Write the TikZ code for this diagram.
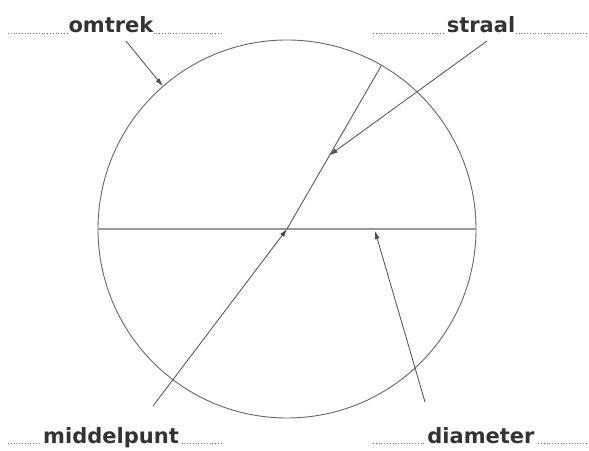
\documentclass[tikz,border=0pt]{standalone}
\usepackage{fontspec}
\setsansfont{DejaVu Sans}
\usetikzlibrary{arrows.meta,calc}

\begin{document}
\begin{tikzpicture}[x=1pt, y=1pt, >={Latex[length=8pt,width=5pt]},
 word/.style={font=\sffamily\bfseries\fontsize{21}{21}\selectfont, text=black!80, fill=white, inner sep=1pt, anchor=base},
 dots/.style={black!55, line width=.8pt, dash pattern=on .8pt off 2pt},
 rimline/.style={draw=black!60, line width=.9pt},
 pointer/.style={->, black!70, line width=.8pt}]
\useasboundingbox (0,0) rectangle (589,450);
% circle and its lines
\node[circle, rimline, minimum size=378pt, inner sep=0pt] (rim) at (287,221) {};
\draw[black!40, line width=1.8pt] (rim.west) -- (rim.east);
\draw[black!65, line width=.9pt] (rim.center) -- (rim.60);
% labels on dotted lines
\draw[dots] (8,417) -- (222,417);
\draw[dots] (373,417) -- (589,417);
\draw[dots] (8,7) -- (222,7);
\draw[dots] (373,7) -- (589,7);
\node[word] (omtrek) at (111,417) {omtrek};
\node[word] (straal) at (481,417) {straal};
\node[word] (middelpunt) at (111,7) {middelpunt};
\node[word] (diameter) at (481,7) {diameter};
% pointers
\coordinate (omtrekfoot) at (126,409);
\coordinate (straalfoot) at (487,409);
\coordinate (middelfoot) at (153,44);
\coordinate (diamfoot) at (425,48);
\coordinate (onradius) at ($(rim.center)!0.45!(rim.60)$);
\coordinate (ondiam) at (375,219);
\draw[pointer] (omtrekfoot) -- (rim.131);
\draw[pointer] (straalfoot) -- (onradius);
\draw[pointer] (middelfoot) -- (rim.center);
\draw[pointer] (diamfoot) -- (ondiam);
\end{tikzpicture}
\end{document}
